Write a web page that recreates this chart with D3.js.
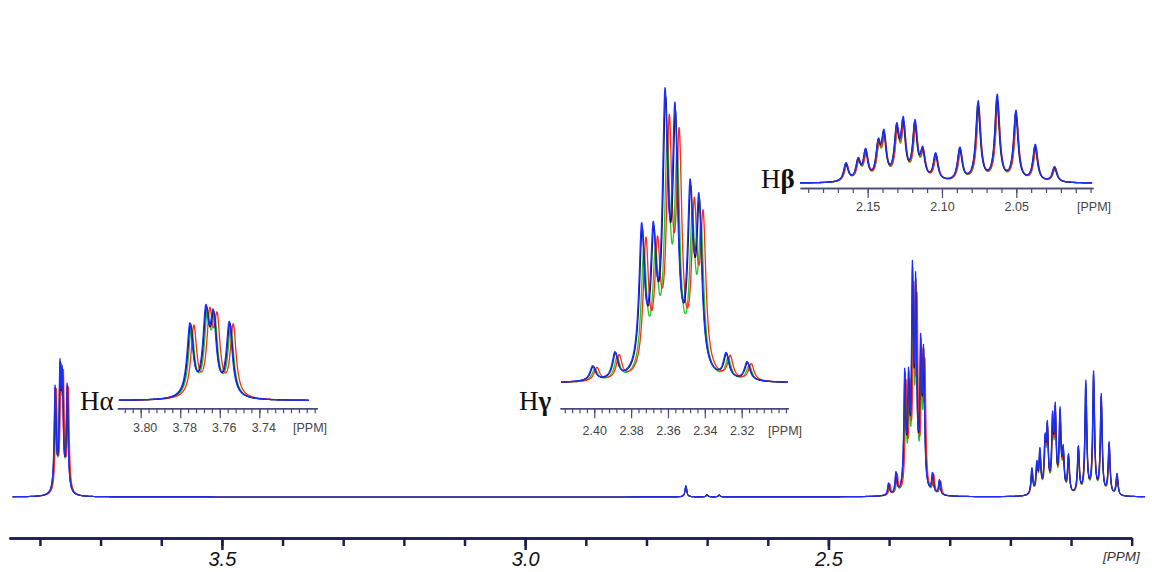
<!DOCTYPE html>
<html>
<head>
<meta charset="utf-8">
<script src="https://cdn.jsdelivr.net/npm/d3@7"></script>
<style>
  body { margin: 0; background: #fff; }
  svg { display: block; font-family: 'Liberation Sans', Arial, sans-serif; }
</style>
</head>
<body>
<svg width="1152" height="572"></svg>
<script>
'use strict';

// four overlaid spectra, in drawing order
var traces = ['green', 'red', 'black', 'blue'];
var traceColors = ['#22c822', '#ff2a1a', '#141440', '#1a30ff'];

// H-alpha multiplet: line positions (ppm), intensities, per-trace shift and scale
var alphaPpm = [3.7751, 3.7671, 3.7633, 3.7552];
var alphaInt = [44, 47.5, 44, 45];
var alphaShift = [-0.0008, -0.0020, -0.0003, 0];
var alphaScale = [0.94, 0.97, 0.98, 1];

// H-gamma multiplet
var gammaPpm = [2.4009, 2.3888, 2.3743, 2.3680, 2.3616, 2.3562, 2.3480, 2.3432, 2.3285, 2.3171];
var gammaInt = [5, 8.8, 48.5, 42.5, 87, 82, 57, 55, 8.3, 6.3];
var gammaShift = [-0.0012, -0.0023, -0.0003, 0];
var gammaScale = [0.84, 0.91, 0.97, 1];

// H-beta multiplet
var betaPpm = [2.1645, 2.1563, 2.1513, 2.1428, 2.1390, 2.1304, 2.1260, 2.1181, 2.1129,
               2.1042, 2.0879, 2.0756, 2.0628, 2.0502, 2.0372, 2.0242];
var betaInt = [11, 12, 17.5, 20, 26, 29, 33, 33.5, 16.5, 16.1, 19.9, 47.8, 51.5, 42.2, 22.1, 9.2];
var betaShift = [-0.0003, -0.0004, 0.0002, 0];
var betaScale = [0.88, 0.92, 0.97, 1];

// small impurity lines
var otherPpm = [2.735, 2.700, 2.680];
var otherInt = [4.6, 0.9, 0.8];
var otherShift = [0, 0, 0, 0];
var otherScale = [1, 1, 1, 1];

// half width at half height of every line (ppm)
var lineWidth = 0.0018;

// tick labels
var mainLabels = [3.5, 3.0, 2.5];
var alphaLabels = [3.80, 3.78, 3.76, 3.74];
var gammaLabels = [2.40, 2.38, 2.36, 2.34, 2.32];
var betaLabels = [2.15, 2.10, 2.05];

var alpha = {ppm: alphaPpm, int: alphaInt, shift: alphaShift, scale: alphaScale};
var gamma = {ppm: gammaPpm, int: gammaInt, shift: gammaShift, scale: gammaScale};
var beta = {ppm: betaPpm, int: betaInt, shift: betaShift, scale: betaScale};
var other = {ppm: otherPpm, int: otherInt, shift: otherShift, scale: otherScale};

var svg = d3.select('svg');
var axisColor = '#1e1e4e';
var insetAxisColor = '#4a4a78';

// sum of lorentzian lines of the given multiplets for trace t
function intensity(mults, t, x) {
    var s = 0;
    mults.forEach(function(m) {
        m.ppm.forEach(function(p, i) {
            var d = (x - p - m.shift[t]) / lineWidth;
            s += m.scale[t] * m.int[i] / (1 + d * d);
        });
    });
    return s;
}

function drawTraces(g, mults, x, y, from, to, n, width) {
    var pts = d3.range(n + 1).map(function(i) { return from + (to - from) * i / n; });
    var line = d3.line().x(function(d) { return x(d[0]); }).y(function(d) { return y(d[1]); });
    traces.forEach(function(name, t) {
        g.append('path')
            .datum(pts.map(function(p) { return [p, intensity(mults, t, p)]; }))
            .attr('fill', 'none')
            .attr('stroke', traceColors[t])
            .attr('stroke-width', width)
            .attr('stroke-linejoin', 'round')
            .attr('d', line);
    });
}

// main spectrum
var mx = d3.scaleLinear().domain([3.851, 2.0]).range([9, 1131.7]);
var my = d3.scaleLinear().domain([0, 100]).range([497, 262]);
drawTraces(svg.append('g'), [alpha, gamma, beta, other], mx, my, 3.845, 1.978, 10000, 1.2);

var minor = d3.range(20, 39).map(function(d) { return d / 10; });
var mAxis = svg.append('g').attr('transform', 'translate(0,538)');
mAxis.call(d3.axisBottom(mx).tickValues(minor).tickSize(8).tickSizeOuter(0).tickFormat(''));
mAxis.append('g').call(d3.axisBottom(mx).tickValues(mainLabels).tickSize(12).tickSizeOuter(0)
    .tickFormat(d3.format('.1f')));
mAxis.selectAll('path').attr('stroke', axisColor).attr('stroke-width', 2.5);
mAxis.selectAll('line').attr('stroke', axisColor).attr('stroke-width', 2.5);
mAxis.selectAll('text').attr('y', 28).attr('dy', 0).attr('fill', '#111')
    .attr('font-size', 20).attr('font-style', 'italic')
    .attr('font-family', 'Liberation Sans, Arial, sans-serif');
svg.append('text').attr('x', 1103).attr('y', 561).attr('font-size', 13.5)
    .attr('font-style', 'italic').attr('fill', '#333').text('[PPM]');

// insets
function drawInset(o) {
    var x = d3.scaleLinear().domain(o.axisDomain).range(o.axisRange);
    var y = d3.scaleLinear().domain([0, o.yMax]).range([o.base, o.top]);
    var g = svg.append('g');
    drawTraces(g, [o.mult], x, y, o.traceDomain[0], o.traceDomain[1], 1500, 1.3);

    var ax = g.append('g').attr('transform', 'translate(0,' + o.axisY + ')');
    ax.call(d3.axisBottom(x).tickValues(o.minor).tickSize(5).tickSizeOuter(0).tickFormat(''));
    var mj = ax.append('g').call(d3.axisBottom(x).tickValues(o.labels).tickSize(10).tickSizeOuter(0)
        .tickFormat(d3.format('.2f')));
    ax.selectAll('path').attr('stroke', insetAxisColor).attr('stroke-width', 1.6);
    ax.selectAll('line').attr('stroke', insetAxisColor).attr('stroke-width', 1.2);
    mj.selectAll('text').attr('y', o.labelY).attr('dy', 0).attr('dx', o.labelDx || 0)
        .attr('fill', '#444').attr('font-size', 12.5)
        .attr('font-family', 'Liberation Sans, Arial, sans-serif');
    g.append('text').attr('x', o.ppmX).attr('y', o.axisY + o.labelY)
        .attr('font-size', 12.5).attr('fill', '#444').text('[PPM]');
    var t = g.append('text').attr('x', o.nameX).attr('y', o.nameY)
        .attr('font-family', 'Liberation Serif, Times New Roman, serif')
        .attr('font-size', 27).attr('fill', '#111').text('H');
    t.append('tspan').attr('font-weight', o.bold ? 'bold' : 'normal').text(o.greek);
}

function ticksFrom(start, step, lo, hi) {
    var out = [];
    for (var k = -40; k <= 40; k++) {
        var v = +(start + k * step).toFixed(4);
        if (v >= lo && v <= hi) out.push(v);
    }
    return out;
}

drawInset({
    mult: alpha, axisDomain: [3.8118, 3.7107], axisRange: [117.3, 317.3],
    traceDomain: [3.811, 3.715], yMax: 58.7, base: 400.7, top: 304.7, axisY: 408.3,
    minor: ticksFrom(3.80, 0.004, 3.711, 3.811), labels: alphaLabels, labelY: 23.5, labelDx: 4,
    ppmX: 293, nameX: 80, nameY: 410, greek: 'α', bold: false
});
drawInset({
    mult: gamma, axisDomain: [2.4186, 2.2947], axisRange: [560, 788.3],
    traceDomain: [2.418, 2.295], yMax: 100, base: 383.3, top: 90.3, axisY: 408.3,
    minor: ticksFrom(2.40, 0.004, 2.295, 2.418), labels: gammaLabels, labelY: 27,
    ppmX: 768, nameX: 519, nameY: 410, greek: 'γ', bold: true
});
drawInset({
    mult: beta, axisDomain: [2.1955, 1.9984], axisRange: [800, 1093],
    traceDomain: [2.1955, 1.999], yMax: 53.2, base: 183.3, top: 95, axisY: 188,
    minor: ticksFrom(2.10, 0.01, 1.999, 2.195), labels: betaLabels, labelY: 23,
    ppmX: 1077, nameX: 761, nameY: 188, greek: 'β', bold: true
});
</script>
</body>
</html>
